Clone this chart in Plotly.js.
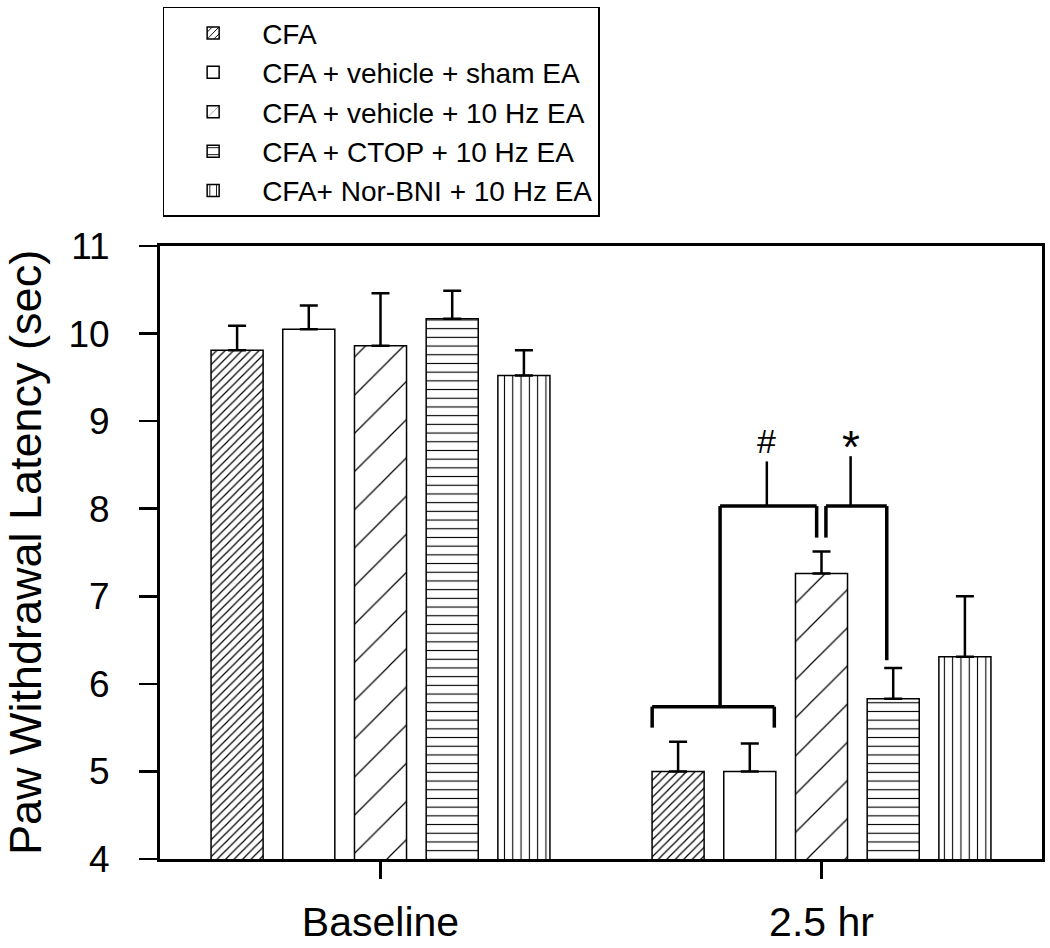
<!DOCTYPE html>
<html>
<head>
<meta charset="utf-8">
<script src="https://cdn.plot.ly/plotly-3.0.1.min.js"></script>
<style>html,body{margin:0;padding:0;background:#fff;}#chart{width:1050px;height:948px;}</style>
</head>
<body>
<div id="chart"></div>
<script>
// ---- data ----
const timepoints = ['Baseline', '2.5 hr'];
const seriesNames = [
  'CFA',
  'CFA + vehicle + sham EA',
  'CFA + vehicle + 10 Hz EA',
  'CFA + CTOP + 10 Hz EA',
  'CFA+ Nor-BNI + 10 Hz EA'
];
const cfaMean        = [9.81, 5.00];
const cfaSem         = [0.28, 0.34];
const shamMean       = [10.05, 5.00];
const shamSem        = [0.27, 0.32];
const ea10Mean       = [9.86, 7.26];
const ea10Sem        = [0.60, 0.25];
const ctopMean       = [10.17, 5.83];
const ctopSem        = [0.32, 0.35];
const norbniMean     = [9.52, 6.31];
const norbniSem      = [0.29, 0.69];
const yTickVals      = [4, 5, 6, 7, 8, 9, 10, 11];

// ---- styling ----
const FONT = 'Liberation Sans, Arial, sans-serif';
const patterns = [
  {shape: '/', size: 6, solidity: 0.2},
  {shape: '', size: 8, solidity: 0.1},
  {shape: '/', size: 27, solidity: 0.045},
  {shape: '-', size: 8.7, solidity: 0.13},
  {shape: '|', size: 8.3, solidity: 0.13}
];
const means = [cfaMean, shamMean, ea10Mean, ctopMean, norbniMean];
const sems  = [cfaSem, shamSem, ea10Sem, ctopSem, norbniSem];

const traces = seriesNames.map((name, i) => ({
  type: 'bar',
  name: name,
  x: timepoints,
  y: means[i],
  marker: {
    color: 'white',
    line: {color: 'black', width: 1.5},
    pattern: Object.assign({fgcolor: 'black', bgcolor: 'white', fillmode: 'replace'}, patterns[i])
  },
  error_y: {
    type: 'data', symmetric: false,
    array: sems[i], arrayminus: sems[i].map(() => NaN),
    color: 'black', thickness: 2.5, width: 9
  },
  hoverinfo: 'skip'
}));

const BARGAP = 0.187, BARGROUPGAP = 0.274;

// significance brackets (annotation lines, positioned in category units)
const LW = 3.5;
const line = (x0, y0, x1, y1, w) => ({type: 'line', xref: 'x', yref: 'y', x0, y0, x1, y1,
  line: {color: 'black', width: w || LW}});
const shapes = [
  // small bracket over CFA & sham at 2.5 hr
  line(0.616, 5.50, 0.616, 5.74), line(0.616, 5.74, 0.893, 5.74), line(0.893, 5.74, 0.893, 5.50),
  // # bracket
  line(0.770, 5.74, 0.770, 8.03), line(0.770, 8.03, 0.989, 8.03), line(0.989, 8.03, 0.989, 7.67),
  line(0.876, 8.03, 0.876, 8.54, 2.5),
  // * bracket
  line(1.010, 7.67, 1.010, 8.03), line(1.010, 8.03, 1.148, 8.03), line(1.148, 8.03, 1.148, 6.27),
  line(1.066, 8.03, 1.066, 8.60, 2.5)
];

const annotations = [
  {x: 0.876, y: 8.77, xref: 'x', yref: 'y', text: '#', showarrow: false,
   font: {family: FONT, size: 34, color: 'black'}},
  {x: 1.066, y: 8.70, xref: 'x', yref: 'y', text: '*', showarrow: false,
   font: {family: FONT, size: 46, color: 'black'}}
];

const layout = {
  width: 1050, height: 948,
  margin: {l: 160, r: 8, t: 245, b: 89},
  paper_bgcolor: 'white', plot_bgcolor: 'white',
  barmode: 'group', bargap: BARGAP, bargroupgap: BARGROUPGAP,
  font: {family: FONT, color: 'black'},
  showlegend: true,
  legend: {
    x: 0.003, y: 1.388, xanchor: 'left', yanchor: 'top',
    bordercolor: 'black', borderwidth: 1.5, bgcolor: 'white',
    font: {family: FONT, size: 28, color: 'black'},
    itemwidth: 88, traceorder: 'normal'
  },
  xaxis: {
    type: 'category', range: [-0.5, 1.5],
    showline: true, linewidth: 3, linecolor: 'black', mirror: true,
    ticks: 'outside', ticklen: 17, tickwidth: 2.5, tickcolor: 'black',
    ticklabelstandoff: 8,
    tickfont: {family: FONT, size: 41, color: 'black'},
    showgrid: false, zeroline: false, fixedrange: true
  },
  yaxis: {
    range: [4, 11], tickvals: yTickVals, ticktext: yTickVals.map(String),
    showline: true, linewidth: 3, linecolor: 'black', mirror: true,
    ticks: 'outside', ticklen: 18, tickwidth: 2.5, tickcolor: 'black',
    ticklabelstandoff: 22,
    tickfont: {family: FONT, size: 37, color: 'black'},
    title: {text: 'Paw Withdrawal Latency (sec)', standoff: 18,
            font: {family: FONT, size: 45, color: 'black'}},
    showgrid: false, zeroline: false, fixedrange: true
  },
  shapes: shapes,
  annotations: annotations
};

Plotly.newPlot('chart', traces, layout, {displayModeBar: false, staticPlot: true});
</script>
</body>
</html>
